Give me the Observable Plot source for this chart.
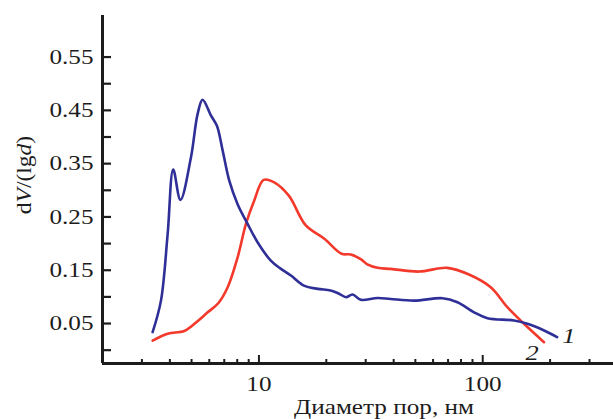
<!DOCTYPE html>
<html><head><meta charset="utf-8">
<script src="https://cdn.jsdelivr.net/npm/d3@7"></script>
<script src="https://cdn.jsdelivr.net/npm/@observablehq/plot@0.6"></script>
<style>
body{margin:0;background:#fff}
</style>
</head><body><div id="chart"></div><script>
// Curve 1 (blue)
const diameter1 = [3.35,3.65,3.91,4.14,4.46,4.97,5.32,5.60,6.11,6.49,6.89,7.37,8.03,8.90,9.86,11.3,12.5,13.9,15.9,18.3,20.9,22.8,24.5,26.2,28.5,33.9,38.8,49.4,66.1,77.1,91.5,105,138,158.5,188,215];
const dV1 = [0.034,0.093,0.218,0.339,0.282,0.362,0.443,0.470,0.440,0.421,0.374,0.318,0.274,0.237,0.2025,0.168,0.153,0.140,0.121,0.115,0.112,0.106,0.0994,0.1045,0.0945,0.098,0.096,0.093,0.0975,0.090,0.071,0.060,0.0557,0.0495,0.037,0.0244];
// Curve 2 (red)
const diameter2 = [3.35,3.91,4.64,5.25,5.90,6.58,7.25,8.03,8.75,9.53,10.5,11.7,13.6,16.2,19.6,23.4,25.7,28.5,30.5,33.9,38.8,51.9,69.5,86.8,108.6,128.8,152.9,187.8];
const dV2 = [0.018,0.031,0.036,0.0525,0.071,0.088,0.118,0.174,0.237,0.281,0.3195,0.315,0.290,0.234,0.209,0.181,0.1795,0.171,0.161,0.1545,0.1525,0.1475,0.1545,0.142,0.118,0.0806,0.0495,0.015];
const curveLabels = ["1","2"];
const xMajor = [10,100];
const xMinor = [3,4,5,6,7,8,9,20,30,40,50,60,70,80,90,200,300];
const yMajor = [0.05,0.15,0.25,0.35,0.45,0.55];
const yMinor = [0,0.1,0.2,0.3,0.4,0.5];
const xTitle = "Диаметр пор, нм";

const s1 = diameter1.map((d,i)=>({d, v:dV1[i]}));
const s2 = diameter2.map((d,i)=>({d, v:dV2[i]}));

const W=613,H=419,mL=102,mT=15,mB=56,mR=0;
const frameW=W-mL-mR, frameH=H-mT-mB;
const xDomain=[2,384], yDomain=[-0.025,0.628];
const ink="#1c1c1c", blue="#2f2f98", red="#f2392b";

const plot = Plot.plot({
  width:W, height:H, marginLeft:mL, marginRight:mR, marginTop:mT, marginBottom:mB,
  x:{type:"log", domain:xDomain},
  y:{domain:yDomain},
  style:{fontFamily:"'Liberation Serif', serif", fontSize:"21px", background:"white", overflow:"visible", color:ink},
  marks:[
    Plot.ruleX(xMinor,{x:d=>d, insetTop:frameH-4, stroke:ink, strokeWidth:2}),
    Plot.ruleX(xMajor,{x:d=>d, insetTop:frameH-8, stroke:ink, strokeWidth:2}),
    Plot.ruleY(yMajor.concat(yMinor),{y:d=>d, insetRight:frameW-9, stroke:ink, strokeWidth:2.2}),
    Plot.axisX({ticks:xMajor, tickSize:0, tickPadding:13, tickFormat:d=>String(d), label:null, fontSize:21, fill:ink}),
    Plot.axisY({ticks:yMajor, tickSize:0, tickPadding:9, tickFormat:d=>d.toFixed(2), label:null, fontSize:21, fill:ink}),
    Plot.line(s2,{x:"d", y:"v", curve:"catmull-rom", stroke:red, strokeWidth:2.6}),
    Plot.line(s1,{x:"d", y:"v", curve:"catmull-rom", stroke:blue, strokeWidth:2.6}),
    Plot.ruleX([xDomain[0]],{stroke:ink, strokeWidth:3}),
    Plot.ruleY([yDomain[0]],{stroke:ink, strokeWidth:3}),
    Plot.text([s1[s1.length-1]],{x:"d", y:"v", text:()=>curveLabels[0], dx:5, dy:-1, textAnchor:"start", fontStyle:"italic", fontSize:22, fill:ink}),
    Plot.text([s2[s2.length-1]],{x:"d", y:"v", text:()=>curveLabels[1], dx:-12, dy:11, textAnchor:"middle", fontStyle:"italic", fontSize:22, fill:ink}),
    Plot.text([xTitle],{text:d=>d, frameAnchor:"bottom", dx:26, dy:44, lineAnchor:"middle", fontSize:21, fill:ink})
  ]
});

// widen glyphs horizontally, around each text's anchor point
d3.select(plot).selectAll("text").each(function(){
  const t = this.getAttribute("transform") || "";
  this.setAttribute("transform", t + " scale(1.2,1)");
});

// y-axis title with italic parts
const yt = d3.select(plot).append("text")
  .attr("transform","translate(23,175) rotate(-90) scale(1.12,1)")
  .attr("text-anchor","middle")
  .attr("dominant-baseline","central")
  .attr("font-family","'Liberation Serif', serif")
  .attr("font-size",21)
  .attr("fill",ink);
yt.append("tspan").text("d");
yt.append("tspan").attr("font-style","italic").text("V");
yt.append("tspan").text("/(lg");
yt.append("tspan").attr("font-style","italic").text("d");
yt.append("tspan").text(")");

document.getElementById("chart").appendChild(plot);
</script></body></html>
